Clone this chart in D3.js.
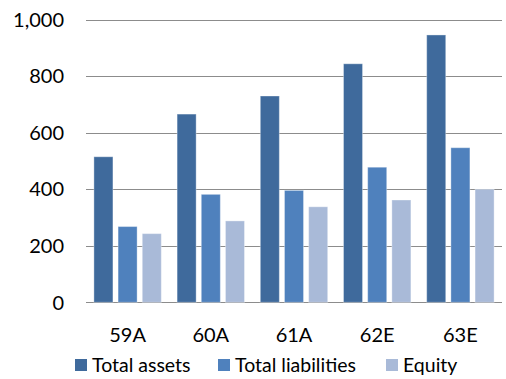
<!DOCTYPE html>
<html><head><meta charset="utf-8">
<script src="https://cdn.jsdelivr.net/npm/d3@7"></script>
<style>body{margin:0;background:#fff}svg{display:block}text{font-family:Lato,"Open Sans",sans-serif;fill:#000}</style>
</head><body><svg id="c" width="506" height="379"></svg>
<script>
const categories = ["59A","60A","61A","62E","63E"];
const seriesNames = ["Total assets","Total liabilities","Equity"];
const totalAssets = [515, 666, 730, 844, 946];
const totalLiabilities = [268, 382, 396, 478, 547];
const equity = [243, 288, 338, 362, 400];
const yTicks = [0,200,400,600,800,1000];
const colors = ["#3F6A9C","#4F81BD","#A9BAD8"];

(function(){
const seriesValues = [totalAssets, totalLiabilities, equity];
const svg = d3.select("#c");
const pLeft = 86, pRight = 502, pTop = 19.7, pBottom = 302.3;
const y = d3.scaleLinear().domain([0,1000]).range([pBottom, pTop]);
const x0 = d3.scaleBand().domain(categories).range([pLeft, pRight]).paddingInner(0.19).paddingOuter(0.095);
const x1 = d3.scaleBand().domain(seriesNames).range([0, x0.bandwidth()]).paddingInner(0.213);

svg.append("g").selectAll("line").data(yTicks).join("line")
  .attr("x1", pLeft).attr("x2", pRight)
  .attr("y1", d=>Math.round(y(d))+0.5).attr("y2", d=>Math.round(y(d))+0.5)
  .attr("stroke", "#8c8c8c").attr("stroke-width", 1.2);

svg.append("g").selectAll("text").data(yTicks).join("text")
  .attr("x", 64).attr("y", d=>y(d)).attr("dy","0.36em")
  .attr("text-anchor","end").attr("font-size", 20)
  .text(d=>d3.format(",")(d));

const g = svg.append("g").selectAll("g").data(categories).join("g")
  .attr("transform", c=>`translate(${x0(c)},0)`);
g.selectAll("rect").data((c,i)=>seriesNames.map((s,j)=>({s, v: seriesValues[j][i], j})))
  .join("rect")
  .attr("x", d=>x1(d.s)).attr("width", x1.bandwidth())
  .attr("y", d=>y(d.v)).attr("height", d=>y(0)-y(d.v))
  .attr("fill", d=>colors[d.j])
  .attr("stroke", "rgba(255,255,255,0.35)").attr("stroke-width", 1);

svg.append("g").selectAll("text").data(categories).join("text")
  .attr("x", c=>x0(c)+x0.bandwidth()/2).attr("y", 341.5)
  .attr("text-anchor","middle").attr("font-size", 20)
  .text(c=>c);

const legendX = [75, 218, 386];
const lg = svg.append("g").selectAll("g").data(seriesNames).join("g")
  .attr("transform",(s,i)=>`translate(${legendX[i]},359)`);
lg.append("rect").attr("width",12).attr("height",12).attr("fill",(s,i)=>colors[i]);
lg.append("text").attr("x",17).attr("y",13).attr("font-size",19.5).text(s=>s);
})();
</script></body></html>
